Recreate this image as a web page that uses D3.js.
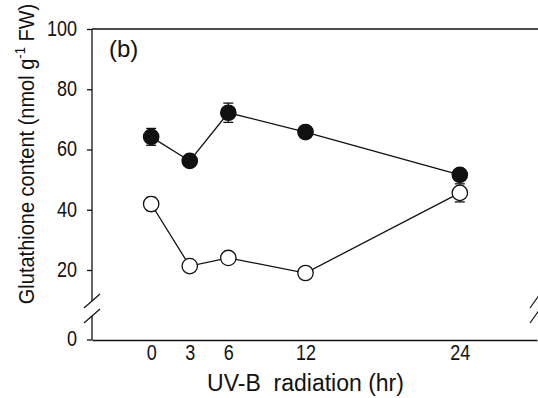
<!DOCTYPE html>
<html>
<head>
<meta charset="utf-8">
<script src="https://cdn.jsdelivr.net/npm/d3@7"></script>
<style>
  body { margin: 0; background: #fff; }
  text { font-family: "Liberation Sans", Arial, sans-serif; fill: #111; }
</style>
</head>
<body>
<div id="chart"></div>
<script>
// data
const hours = [0, 3, 6, 12, 24]
const filledValues = [64.2, 56.2, 72.2, 65.8, 51.6]
const filledErrors = [2.8, 1.0, 3.2, 1.5, 1.5]
const openValues = [41.9, 21.3, 24.0, 19.0, 45.6]
const openErrors = [2.2, 1.0, 1.0, 1.0, 3.0]
const xTicks = [0, 3, 6, 12, 24]
const yTicks = [20, 40, 60, 80, 100]

const width = 538
const height = 398

const svg = d3.select("#chart")
  .append("svg")
  .attr("width", width)
  .attr("height", height)

const x = d3.scaleLinear()
  .domain([-4.6, 30])
  .range([92, 537])

// upper part of the broken y axis
const y = d3.scaleLinear()
  .domain([20, 100])
  .range([270, 29])
// lower part: only zero below the break
const y0 = 340

const ink = "#111"
// the tick numbers in the figure are tall and narrow
const tallText = "scale(1,1.2)"

// top frame line
svg.append("line")
  .attr("x1", x(-4.6)).attr("x2", width)
  .attr("y1", y(100)).attr("y2", y(100))
  .attr("stroke", ink).attr("stroke-width", 1.3)

// y axis, upper segment
const yAxis = svg.append("g")
  .attr("transform", "translate(" + x(-4.6) + ",0)")
  .call(d3.axisLeft(y).tickValues(yTicks).tickSize(5).tickSizeOuter(0).tickPadding(10))
yAxis.select(".domain").remove()
yAxis.append("line")
  .attr("y1", y(100)).attr("y2", 301)
  .attr("stroke", ink).attr("stroke-width", 1.3)
// y axis, lower segment
yAxis.append("line")
  .attr("y1", 316).attr("y2", y0)
  .attr("stroke", ink).attr("stroke-width", 1.3)
yAxis.append("line")
  .attr("x1", -5).attr("x2", 0)
  .attr("y1", y0).attr("y2", y0)
  .attr("stroke", ink).attr("stroke-width", 1.3)
yAxis.append("g")
  .attr("transform", "translate(-15," + y0 + ")")
  .append("text")
  .attr("dy", "0.3em")
  .attr("text-anchor", "end")
  .attr("transform", tallText)
  .style("font-size", "18px")
  .text("0")
yAxis.selectAll(".tick line").attr("stroke", ink).attr("stroke-width", 1.3)
yAxis.selectAll(".tick text")
  .attr("dy", "0.3em")
  .attr("transform", tallText)
  .style("font-size", "18px")

// break marks on the y axis and the right edge
const breaks = [[0, 301], [0, 316], [x(30) - 2, 301], [x(30) - 2, 316]]
svg.append("g")
  .selectAll("line")
  .data(breaks)
  .enter()
  .append("line")
  .attr("x1", d => d[0] ? d[0] - 5 : x(-4.6) - 8)
  .attr("x2", d => d[0] ? d[0] + 5 : x(-4.6) + 8)
  .attr("y1", d => d[1] + 7)
  .attr("y2", d => d[1] - 7)
  .attr("stroke", ink)
  .attr("stroke-width", 1.2)

// x axis
const xAxis = svg.append("g")
  .attr("transform", "translate(0," + y0 + ")")
  .call(d3.axisBottom(x).tickValues(xTicks).tickSize(0).tickSizeOuter(0).tickPadding(4))
xAxis.select(".domain").attr("stroke", ink).attr("stroke-width", 1.3)
xAxis.selectAll(".tick text")
  .attr("transform", tallText)
  .style("font-size", "18px")

// axis titles
svg.append("text")
  .attr("x", x(12))
  .attr("y", 391)
  .attr("text-anchor", "middle")
  .style("font-size", "23px")
  .attr("xml:space", "preserve")
  .text("UV-B  radiation (hr)")

const yTitle = svg.append("text")
  .attr("transform", "translate(34,154) rotate(-90) scale(1,1.12)")
  .attr("text-anchor", "middle")
  .style("font-size", "20px")
yTitle.append("tspan").text("Glutathione content (nmol g")
yTitle.append("tspan").attr("dy", -8).style("font-size", "13px").text("-1")
yTitle.append("tspan").attr("dy", 8).text(" FW)")

// panel label
svg.append("text")
  .attr("x", 109)
  .attr("y", 57)
  .style("font-size", "24px")
  .text("(b)")

// series
const series = [
  { values: filledValues, errors: filledErrors, fill: ink },
  { values: openValues, errors: openErrors, fill: "#fff" }
]

const line = d3.line()
  .x((d, i) => x(hours[i]))
  .y(d => y(d))

series.forEach(s => {
  const g = svg.append("g")

  g.append("path")
    .datum(s.values)
    .attr("d", line)
    .attr("fill", "none")
    .attr("stroke", ink)
    .attr("stroke-width", 1.3)

  // error bars
  const err = g.append("g")
    .selectAll("g")
    .data(s.values)
    .enter()
    .append("g")
  err.append("line")
    .attr("x1", (d, i) => x(hours[i])).attr("x2", (d, i) => x(hours[i]))
    .attr("y1", (d, i) => y(d + s.errors[i])).attr("y2", (d, i) => y(d - s.errors[i]))
    .attr("stroke", ink).attr("stroke-width", 1.2)
  err.append("line")
    .attr("x1", (d, i) => x(hours[i]) - 5).attr("x2", (d, i) => x(hours[i]) + 5)
    .attr("y1", (d, i) => y(d + s.errors[i])).attr("y2", (d, i) => y(d + s.errors[i]))
    .attr("stroke", ink).attr("stroke-width", 1.3)
  err.append("line")
    .attr("x1", (d, i) => x(hours[i]) - 5).attr("x2", (d, i) => x(hours[i]) + 5)
    .attr("y1", (d, i) => y(d - s.errors[i])).attr("y2", (d, i) => y(d - s.errors[i]))
    .attr("stroke", ink).attr("stroke-width", 1.3)

  g.append("g")
    .selectAll("circle")
    .data(s.values)
    .enter()
    .append("circle")
    .attr("cx", (d, i) => x(hours[i]))
    .attr("cy", d => y(d))
    .attr("r", 7.7)
    .attr("fill", s.fill)
    .attr("stroke", ink)
    .attr("stroke-width", 1.3)
})
</script>
</body>
</html>
